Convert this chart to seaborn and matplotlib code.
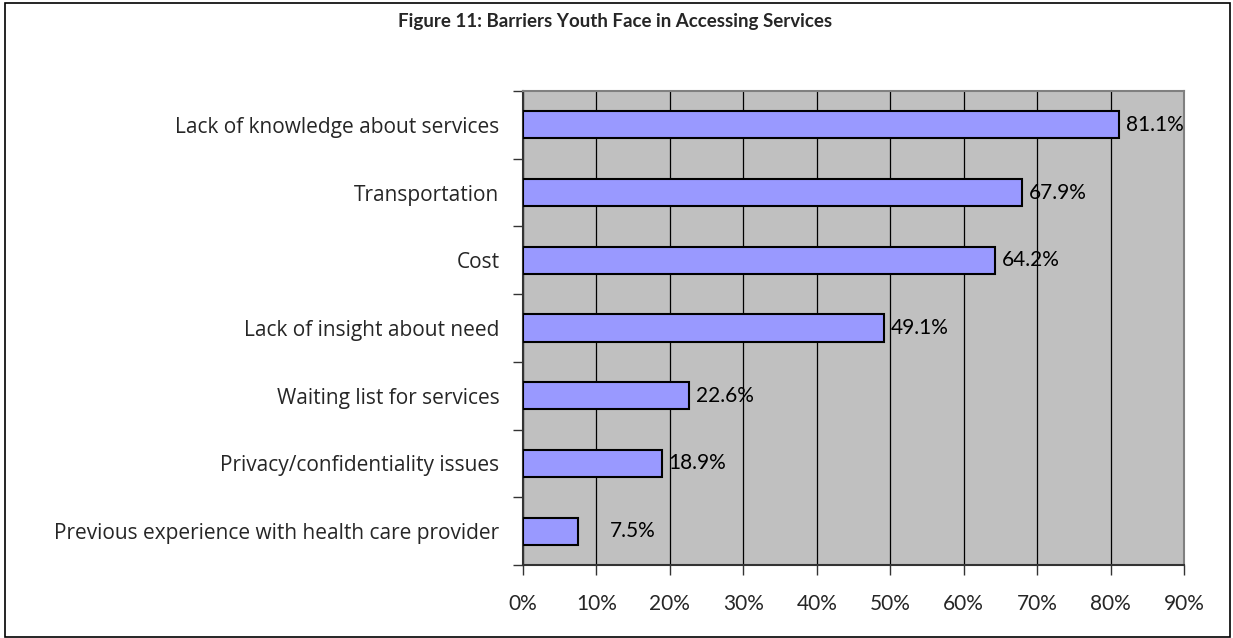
import matplotlib
matplotlib.use("Agg")
import matplotlib.pyplot as plt
import matplotlib.patches as mpatches
from matplotlib.ticker import MultipleLocator, FixedLocator, PercentFormatter
import seaborn as sns
import pandas as pd

# Survey results: share of respondents citing each barrier
barriers = [
    "Lack of knowledge about services",
    "Transportation",
    "Cost",
    "Lack of insight about need",
    "Waiting list for services",
    "Privacy/confidentiality issues",
    "Previous experience with health care provider",
]
percents = [81.1, 67.9, 64.2, 49.1, 22.6, 18.9, 7.5]
value_labels = ["81.1%", "67.9%", "64.2%", "49.1%", "22.6%", "18.9%", "7.5%"]
title = "Figure 11: Barriers Youth Face in Accessing Services"

df = pd.DataFrame({"barrier": barriers, "percent": percents})

sns.set_style("white")
plt.rcParams["font.family"] = ["Lato", "DejaVu Sans"]

fig = plt.figure(figsize=(12.33, 6.38), dpi=100)
ax = fig.add_axes([523 / 1233, 1 - 565 / 638, 661 / 1233, 474 / 638])

ax.set_facecolor("#C0C0C0")
sns.barplot(data=df, x="percent", y="barrier", orient="h", ax=ax,
            color="#9999FF", saturation=1, width=0.4,
            edgecolor="black", linewidth=1.5, zorder=3)

ax.set_xlim(0, 90)
ax.set_ylim(len(barriers) - 0.5, -0.5)
ax.xaxis.set_major_locator(MultipleLocator(10))
ax.xaxis.set_major_formatter(PercentFormatter(decimals=0))
ax.grid(axis="x", color="black", linewidth=0.9, zorder=1)
ax.grid(axis="y", visible=False)
ax.set_axisbelow(True)

# Category ticks sit between bars, as in a spreadsheet chart
ax.yaxis.set_major_locator(FixedLocator(range(len(barriers))))
ax.yaxis.set_minor_locator(FixedLocator([i - 0.5 for i in range(len(barriers) + 1)]))
ax.tick_params(axis="y", which="major", left=True, length=0, pad=17)
ax.tick_params(axis="y", which="minor", left=True, length=7, width=1,
               color="#333333", direction="out")
ax.tick_params(axis="x", which="major", bottom=True, length=7, width=1, color="#333333",
               direction="out", pad=14, labelsize=15)
for lbl in ax.get_yticklabels():
    lbl.set_fontfamily(["Open Sans", "DejaVu Sans"])
    lbl.set_fontsize(15)
ax.set_xlabel("")
ax.set_ylabel("")

for side in ("top", "right"):
    ax.spines[side].set_color("#808080")
    ax.spines[side].set_linewidth(1.5)
for side in ("left", "bottom"):
    ax.spines[side].set_color("#333333")
    ax.spines[side].set_linewidth(1.5)

# Value labels just past each bar end; the smallest bar's label sits further out
label_offsets = [5, 5, 5, 5, 5, 5, 23]
for i, (val, txt) in enumerate(zip(percents, value_labels)):
    ax.annotate(txt, xy=(val, i), xytext=(label_offsets[i], 0), textcoords="offset points",
                va="center", ha="left", fontsize=15, color="black", zorder=4)

fig.text(615 / 1233, 1 - 22 / 638, title, ha="center", va="center",
         fontsize=13.5, fontweight="bold")

# Chart frame around the whole figure
frame = mpatches.Rectangle((5 / 1233, 1 / 638), 1225 / 1233, 634 / 638,
                           transform=fig.transFigure, fill=False,
                           edgecolor="black", linewidth=1.2)
fig.add_artist(frame)

fig.savefig("out.png", dpi=100)
